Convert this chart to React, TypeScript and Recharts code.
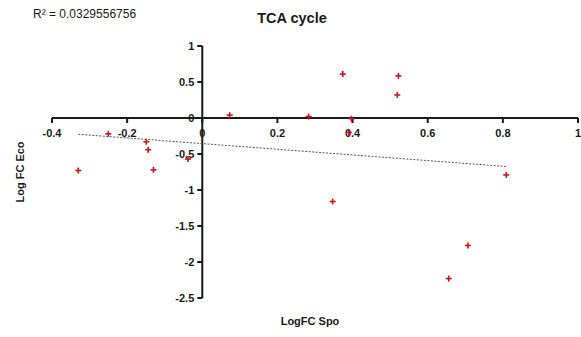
import React from 'react';
import {
  ScatterChart,
  Scatter,
  XAxis,
  YAxis,
  ReferenceLine,
  ReferenceDot,
} from 'recharts';

// LogFC Spo vs Log FC Eco, TCA cycle genes
const spo = [-0.33, -0.25, -0.149, -0.144, -0.13, -0.038, 0.073, 0.283, 0.374, 0.39, 0.397, 0.347, 0.519, 0.522, 0.656, 0.707, 0.809];
const eco = [-0.73, -0.22, -0.33, -0.44, -0.72, -0.57, 0.04, 0.02, 0.61, -0.2, -0.01, -1.16, 0.32, 0.585, -2.23, -1.77, -0.79];

// linear fit endpoints
const trendX = [-0.33, 0.809];
const trendY = [-0.226, -0.674];

const xTicks = [-0.4, -0.2, 0, 0.2, 0.4, 0.6, 0.8, 1];
const yTicks = [1, 0.5, 0, -0.5, -1, -1.5, -2, -2.5];

const W = 581;
const H = 337;
const INK = '#1a1a1a';
const RED = '#d0101a';
const FONT = '"Liberation Sans", Arial, sans-serif';

const points = spo.map((x, i) => ({ x, y: eco[i] }));

const Plus = (props: any) => {
  const { cx, cy } = props;
  return (
    <g stroke={RED} strokeWidth={1.6}>
      <line x1={cx - 3} y1={cy} x2={cx + 3} y2={cy} />
      <line x1={cx} y1={cy - 3} x2={cx} y2={cy + 3} />
    </g>
  );
};

const XTick = (label: string) => (props: any) => {
  const { cx, cy } = props;
  return (
    <g>
      <line x1={cx} y1={cy} x2={cx} y2={cy + 5} stroke={INK} strokeWidth={2} />
      <text x={cx} y={cy + 19} textAnchor="middle" fontSize={11} fontWeight="bold" fill={INK} fontFamily={FONT}>
        {label}
      </text>
    </g>
  );
};

const YTick = (label: string) => (props: any) => {
  const { cx, cy } = props;
  return (
    <g>
      <line x1={cx - 5} y1={cy} x2={cx} y2={cy} stroke={INK} strokeWidth={2} />
      <text x={cx - 8} y={cy + 4} textAnchor="end" fontSize={11} fontWeight="bold" fill={INK} fontFamily={FONT}>
        {label}
      </text>
    </g>
  );
};

export default function App() {
  return (
    <div style={{ position: 'absolute', left: 0, top: 0, width: W, height: H, background: '#fff', fontFamily: FONT }}>
      <div style={{ position: 'absolute', left: 33, top: 7, fontSize: 12, color: INK }}>
        R² = 0.0329556756
      </div>
      <div style={{ position: 'absolute', left: 0, width: 584, top: 10, textAlign: 'center', fontSize: 14.5, fontWeight: 'bold', color: INK }}>
        TCA cycle
      </div>
      <div
        style={{
          position: 'absolute',
          left: 20,
          top: 172,
          transform: 'translate(-50%, -50%) rotate(-90deg)',
          fontSize: 11,
          fontWeight: 'bold',
          color: INK,
          whiteSpace: 'nowrap',
        }}
      >
        Log FC Eco
      </div>
      <div style={{ position: 'absolute', left: 0, width: 620, top: 315, textAlign: 'center', fontSize: 11, fontWeight: 'bold', color: INK }}>
        LogFC Spo
      </div>
      <div style={{ position: 'absolute', left: 0, top: 0 }}>
        <ScatterChart width={W} height={H} margin={{ top: 46, right: 3, bottom: 39, left: 52 }}>
          <XAxis type="number" dataKey="x" domain={[-0.4, 1]} hide />
          <YAxis type="number" dataKey="y" domain={[-2.5, 1]} hide />
          <ReferenceLine x={0} stroke={INK} strokeWidth={2} />
          <ReferenceLine y={0} stroke={INK} strokeWidth={2} />
          {xTicks.map((t) => (
            <ReferenceDot key={`xt${t}`} x={t} y={0} ifOverflow="visible" shape={XTick(String(t))} />
          ))}
          {yTicks.map((t) => (
            <ReferenceDot key={`yt${t}`} x={0} y={t} ifOverflow="visible" shape={YTick(String(t))} />
          ))}
          <ReferenceLine
            segment={[
              { x: trendX[0], y: trendY[0] },
              { x: trendX[1], y: trendY[1] },
            ]}
            stroke="#555"
            strokeWidth={1}
            strokeDasharray="2 1.5"
          />
          <Scatter data={points} shape={Plus} isAnimationActive={false} />
        </ScatterChart>
      </div>
    </div>
  );
}
